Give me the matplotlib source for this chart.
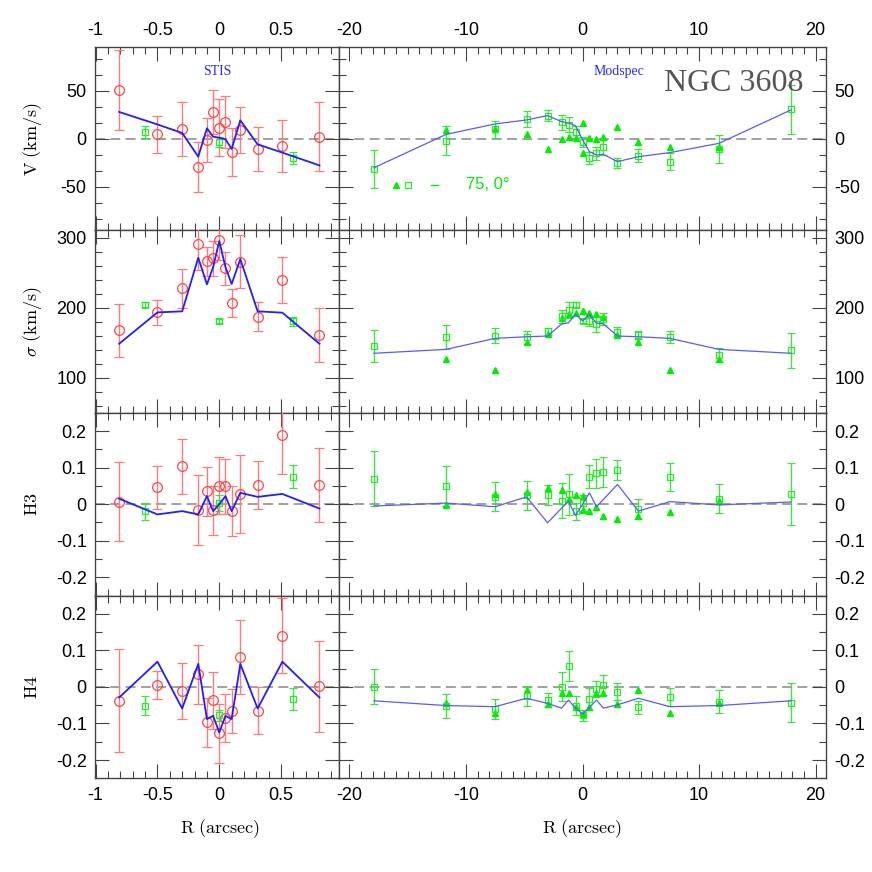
import matplotlib
matplotlib.use("Agg")
import matplotlib.pyplot as plt
from matplotlib.ticker import MultipleLocator, FuncFormatter

plt.rcParams['axes.unicode_minus'] = False
plt.rcParams['mathtext.fontset'] = 'cm'
plt.rcParams['font.family'] = ['Liberation Sans', 'DejaVu Sans']

# ---------------- data ----------------
# STIS (left panels)
STIS_R = [-0.81, -0.50, -0.30, -0.17, -0.10, -0.05, 0.0, 0.05, 0.10, 0.17, 0.31, 0.51, 0.81]
STIS_V = [50.7, 4.5, 10.1, -29.5, -1.4, 28.1, 11.5, 17.7, -13.9, 9.1, -11.1, -7.6, 2.1]
STIS_V_ERR = [42, 19.5, 28, 26, 23, 23, 30, 27, 25, 24, 23, 27, 36]
STIS_S = [168, 193.4, 227.7, 290.6, 266.7, 270.6, 296.7, 256.3, 206.3, 265.7, 187.1, 239.6, 161]
STIS_S_ERR = [38, 17.6, 28, 36, 20.7, 25, 28, 24, 20, 38, 20.5, 33, 38]
STIS_H3 = [0.007, 0.046, 0.104, -0.016, 0.035, -0.017, 0.051, 0.049, -0.019, 0.027, 0.053, 0.188, 0.053]
STIS_H3_ERR = [0.108, 0.059, 0.075, 0.095, 0.067, 0.068, 0.079, 0.075, 0.069, 0.107, 0.065, 0.105, 0.102]
STIS_H4 = [-0.038, 0.005, -0.012, 0.034, -0.097, -0.037, -0.127, -0.084, -0.066, 0.081, -0.065, 0.140, 0.002]
STIS_H4_ERR = [0.141, 0.039, 0.077, 0.081, 0.068, 0.077, 0.080, 0.066, 0.059, 0.101, 0.065, 0.102, 0.125]

MODEL_STIS_V = [27.8, 14.8, 5.9, -18.7, 10.8, 2.1, 1.0, -0.7, -10.7, 19.1, -5.9, -14.5, -27.8]
MODEL_STIS_S = [148.6, 193.4, 194.9, 271.4, 233.4, 258.0, 295.3, 258.0, 233.9, 269.6, 194.9, 193.0, 148.6]
MODEL_STIS_H3 = [0.015, -0.028, -0.019, -0.028, 0.022, -0.019, 0.0, 0.022, -0.019, 0.031, 0.020, 0.028, -0.012]
MODEL_STIS_H4 = [-0.029, 0.069, -0.059, 0.063, -0.088, -0.079, -0.125, -0.079, -0.088, 0.063, -0.059, 0.069, -0.029]

# Modspec, PA 0 (open squares)
MOD_R = [-17.9, -11.7, -7.5, -4.8, -3.0, -1.8, -1.2, -0.6, 0.0, 0.6, 1.2, 1.8, 3.0, 4.8, 7.5, 11.7, 17.9]
MOD_V = [-31.6, -2.0, 9.8, 20.9, 24.0, 17.0, 14.3, 6.8, -3.4, -20.0, -15.3, -9.0, -25.0, -17.7, -23.9, -11.1, 30.6]
MOD_V_ERR = [20, 15, 9, 8.3, 5.5, 7.6, 7.8, 6, 5, 6.5, 7, 7.5, 5, 7, 8.5, 14.5, 25.5]
MOD_S = [145.7, 158.6, 160.0, 157.7, 166.7, 188.0, 196.7, 204.5, 181.6, 181.0, 176.7, 183.9, 165.7, 161.0, 158.6, 132.4, 139.6]
MOD_S_ERR = [23, 17.5, 10.5, 9, 5, 9.5, 11, 4, 3, 6.5, 12, 8, 6.5, 6, 8.5, 10, 25]
MOD_H3 = [0.070, 0.050, 0.020, 0.024, 0.025, 0.010, 0.027, -0.020, 0.004, 0.075, 0.084, 0.088, 0.094, -0.013, 0.074, 0.015, 0.027]
MOD_H3_ERR = [0.075, 0.055, 0.04, 0.04, 0.027, 0.048, 0.056, 0.022, 0.022, 0.032, 0.039, 0.04, 0.027, 0.028, 0.039, 0.04, 0.085]
MOD_H4 = [0.001, -0.051, -0.061, -0.026, -0.036, 0.001, 0.058, -0.051, -0.078, -0.034, -0.006, 0.005, -0.013, -0.056, -0.028, -0.040, -0.043]
MOD_H4_ERR = [0.047, 0.033, 0.028, 0.026, 0.02, 0.039, 0.041, 0.026, 0.015, 0.03, 0.022, 0.027, 0.023, 0.017, 0.025, 0.032, 0.054]

# Modspec, PA 75 (filled triangles)
TRI_R = [-11.7, -7.5, -4.8, -3.0, -1.8, -1.2, -0.6, 0.0, 0.0, 0.6, 1.2, 1.8, 3.0, 4.8, 7.5, 11.7]
TRI_V = [9.1, 9.8, 4.5, -10.4, -0.7, 2.1, 0.4, 16.7, -15.3, 0.4, -0.7, 2.1, 11.8, -3.1, -8.3, -8.3]
TRI_S = [126.7, 110.6, 150.6, 162.0, 185.7, 191.4, 192.9, 195.3, 195.3, 192.9, 191.4, 186.3, 161.0, 150.6, 110.6, 126.7]
TRI_H3 = [-0.003, 0.027, 0.034, 0.045, 0.038, 0.015, 0.026, 0.022, -0.017, -0.020, -0.008, -0.033, -0.040, -0.031, -0.022, 0.008]
TRI_H4 = [-0.043, -0.072, -0.008, -0.048, -0.017, -0.017, -0.056, -0.074, -0.074, -0.056, -0.017, -0.017, -0.047, -0.008, -0.072, -0.043]

MODEL_MOD_V = [-30.2, 4.5, 15.3, 19.5, 24.0, 17.7, 16.3, 13.5, -1.0, -13.5, -17.0, -16.3, -23.9, -18.7, -14.5, -4.9, 29.9]
MODEL_MOD_S = [135.0, 140.6, 156.3, 158.6, 159.6, 176.7, 178.6, 190.6, 181.4, 190.6, 178.0, 177.0, 159.6, 158.6, 156.3, 140.6, 135.0]
MODEL_MOD_H3 = [-0.005, 0.003, -0.007, 0.020, -0.051, -0.011, 0.008, -0.031, 0.0, 0.031, -0.007, 0.013, 0.054, -0.019, 0.007, -0.002, 0.006]
MODEL_MOD_H4 = [-0.038, -0.051, -0.054, -0.031, -0.045, -0.058, -0.036, -0.058, -0.074, -0.056, -0.036, -0.058, -0.049, -0.031, -0.054, -0.051, -0.038]

YLABELS = [r'$\mathrm{V\ (km/s)}$', r'$\sigma\ \mathrm{(km/s)}$', r'$\mathrm{H3}$', r'$\mathrm{H4}$']
XLABEL = r'$\mathrm{R\ (arcsec)}$'

# ---------------- layout ----------------
W = 872.0
fig = plt.figure(figsize=(8.72, 8.72), dpi=100)

X0, XM, X1 = 95.0, 339.0, 826.0
Y0, Y1 = 47.3, 778.3
ROWH = (Y1 - Y0) / 4


def rect(xa, xb, ya, yb):
    return [xa / W, 1 - yb / W, (xb - xa) / W, (yb - ya) / W]


def fmt(v, pos):
    r = round(v, 3)
    if abs(r) < 1e-9:
        return '0'
    return '%g' % r


ylims = [(-95, 95), (50, 311), (-0.25, 0.25), (-0.25, 0.25)]
ymaj = [50, 100, 0.1, 0.1]
ymin = [50 / 3.0, 20, 0.05, 0.05]

stis_y = [(STIS_V, STIS_V_ERR, MODEL_STIS_V), (STIS_S, STIS_S_ERR, MODEL_STIS_S),
          (STIS_H3, STIS_H3_ERR, MODEL_STIS_H3), (STIS_H4, STIS_H4_ERR, MODEL_STIS_H4)]
mod_y = [(MOD_V, MOD_V_ERR, MODEL_MOD_V, TRI_V), (MOD_S, MOD_S_ERR, MODEL_MOD_S, TRI_S),
         (MOD_H3, MOD_H3_ERR, MODEL_MOD_H3, TRI_H3), (MOD_H4, MOD_H4_ERR, MODEL_MOD_H4, TRI_H4)]

RED_E = '#ff7b7b'
RED_M = '#ff4444'
GRN = '#22ee22'
GRN_E = '#44e044'
BLUE_L = '#1f1fff'
BLUE_R = '#5a5aff'
SPINE = '#444444'

for i in range(4):
    ya = Y0 + i * ROWH
    yb = ya + ROWH
    axL = fig.add_axes(rect(X0, XM, ya, yb))
    axR = fig.add_axes(rect(XM, X1, ya, yb))
    for ax, side in ((axL, 'L'), (axR, 'R')):
        ax.set_ylim(*ylims[i])
        ax.yaxis.set_major_locator(MultipleLocator(ymaj[i]))
        ax.yaxis.set_minor_locator(MultipleLocator(ymin[i]))
        ax.yaxis.set_major_formatter(FuncFormatter(fmt))
        ax.xaxis.set_major_formatter(FuncFormatter(fmt))
        ax.tick_params(which='both', direction='in', top=True, bottom=True, left=True, right=True,
                       labelsize=13, colors=SPINE, labelcolor='black', width=0.8)
        ax.tick_params(which='major', length=10)
        ax.tick_params(which='minor', length=5)
        ax.tick_params(labeltop=(i == 0), labelbottom=(i == 3),
                       labelleft=(side == 'L'), labelright=(side == 'R'), pad=6)
        for s in ax.spines.values():
            s.set_color(SPINE)
            s.set_linewidth(1.0)
        if i != 1:
            ax.axhline(0, color='#888888', lw=1.1, ls=(0, (6.5, 3.5)), zorder=1)
    axL.set_xlim(-1.005, 0.968)
    axL.xaxis.set_major_locator(MultipleLocator(0.5))
    axL.xaxis.set_minor_locator(MultipleLocator(0.1))
    axR.set_xlim(-20.9, 20.9)
    axR.xaxis.set_major_locator(MultipleLocator(10))
    axR.xaxis.set_minor_locator(MultipleLocator(1))

    # left: STIS
    yv, ye, ym = stis_y[i]
    axL.plot(STIS_R, ym, color=BLUE_L, lw=1.3, zorder=4)
    axL.errorbar(STIS_R, yv, yerr=ye, fmt='o', mfc='none', mec=RED_M, mew=0.9, ms=7,
                 ecolor=RED_E, elinewidth=1.0, capsize=3.5, capthick=1.0, zorder=3)
    mv, me, mm, tv = mod_y[i]
    axL.errorbar(MOD_R, mv, yerr=me, fmt='s', mfc='none', mec=GRN, mew=0.9, ms=5,
                 ecolor=GRN_E, elinewidth=1.0, capsize=3, capthick=1.0, zorder=3)

    # right: Modspec
    axR.plot(MOD_R, mm, color=BLUE_R, lw=0.9, zorder=4)
    axR.errorbar(MOD_R, mv, yerr=me, fmt='s', mfc='none', mec=GRN, mew=0.9, ms=5,
                 ecolor=GRN_E, elinewidth=1.0, capsize=3, capthick=1.0, zorder=3)
    axR.plot(TRI_R, tv, ls='none', marker='^', color='#00ee00', ms=5, zorder=3)

    fig.text(32 / W, 1 - (ya + ROWH / 2) / W, YLABELS[i], rotation=90,
             ha='center', va='center', fontsize=13)

    if i == 0:
        axL.text(0.5, 0.87, 'STIS', transform=axL.transAxes, ha='center', va='center',
                 color='#2a2aff', fontsize=10, family='Liberation Serif')
        axR.text(0.575, 0.87, 'Modspec', transform=axR.transAxes, ha='center', va='center',
                 color='#2a2aff', fontsize=10, family='Liberation Serif')
        axR.text(0.81, 0.80, 'NGC 3608', transform=axR.transAxes, ha='center', va='center',
                 color='#555555', fontsize=23, family='Liberation Serif')
        # legend
        axR.plot([0.117], [0.244], transform=axR.transAxes, marker='^', color='#00ee00', ms=5, ls='none')
        axR.plot([0.141], [0.244], transform=axR.transAxes, marker='s', mfc='none', mec=GRN, mew=0.9, ms=5, ls='none')
        axR.plot([0.188, 0.204], [0.247, 0.247], transform=axR.transAxes, color='#00ee00', lw=1.0)
        axR.text(0.305, 0.247, '75, 0°', transform=axR.transAxes, ha='center', va='center',
                 color='#00ee00', fontsize=12)

fig.text(220 / W, 1 - 829 / W, XLABEL, ha='center', va='center', fontsize=13)
fig.text(582 / W, 1 - 829 / W, XLABEL, ha='center', va='center', fontsize=13)

fig.savefig('out.png', dpi=100)
